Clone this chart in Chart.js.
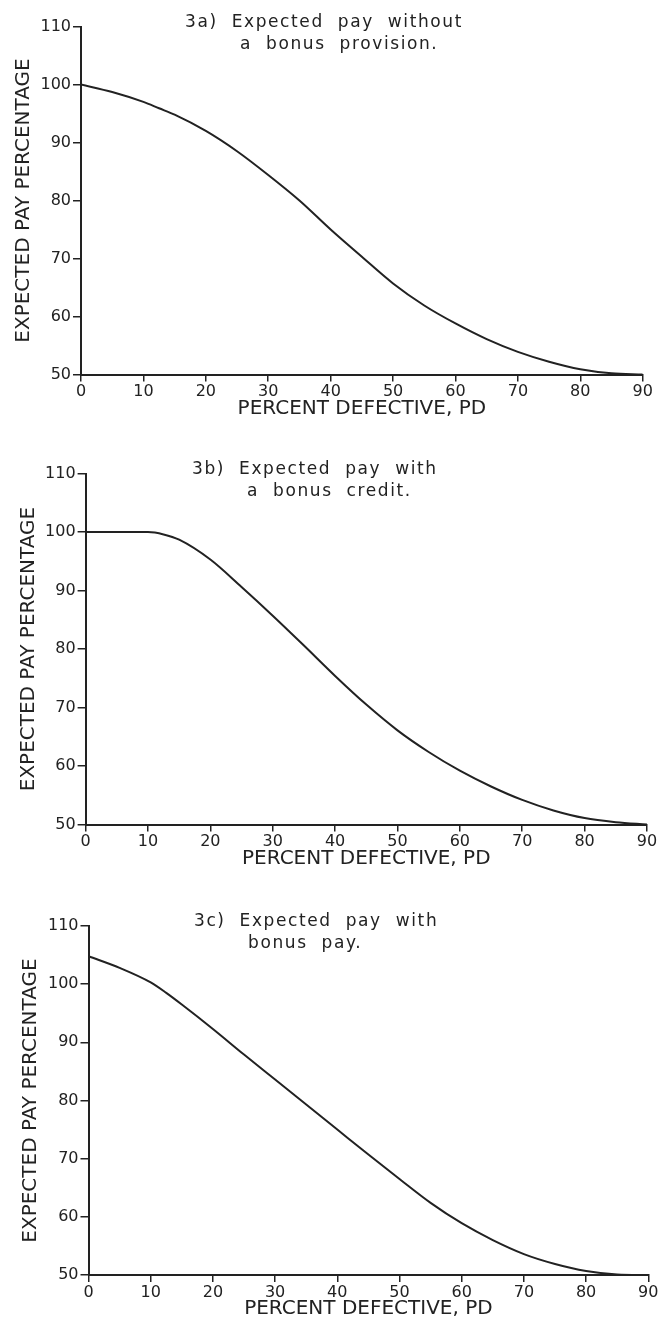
<!DOCTYPE html>
<html>
<head>
<meta charset="utf-8">
<script src="https://cdn.jsdelivr.net/npm/chart.js@4.4.0/dist/chart.umd.min.js"></script>
<style>
body { margin: 0; background: #fff; }
#page { position: relative; width: 660px; height: 1324px; overflow: hidden; background: #fff; }
.panel { position: absolute; left: 0; width: 660px; }
.ptitle { position: absolute; font-family: "DejaVu Sans", sans-serif; font-size: 17px; line-height: 22px;
  color: #222; letter-spacing: 1.6px; word-spacing: 7px; white-space: pre; }
.ptitle span { display: block; }
</style>
</head>
<body>
<div id="page">
  <div class="panel" style="top:0px;height:440px"><canvas id="chartA" width="660" height="440"></canvas></div>
  <div class="panel" style="top:440px;height:440px"><canvas id="chartB" width="660" height="440"></canvas></div>
  <div class="panel" style="top:880px;height:444px"><canvas id="chartC" width="660" height="444"></canvas></div>
  <div class="ptitle" id="titleA" style="left:185px;top:10px"></div>
  <div class="ptitle" id="titleB" style="left:192px;top:457px"></div>
  <div class="ptitle" id="titleC" style="left:194px;top:909px"></div>
</div>
<script>
// values
const percentDefective = [0, 5, 10, 12.5, 15, 20, 25, 30, 35, 40, 45, 50, 55, 60, 65, 70, 75, 80, 85, 90];
const payNoBonus     = [100, 98.7, 97.0, 95.9, 94.8, 92.0, 88.5, 84.4, 80.0, 75.0, 70.3, 65.7, 61.9, 58.8, 56.1, 53.9, 52.2, 50.9, 50.2, 50.0];
const payBonusCredit = [100, 100, 100, 99.6, 98.7, 95.3, 90.6, 85.7, 80.6, 75.4, 70.5, 66.1, 62.4, 59.2, 56.5, 54.2, 52.4, 51.1, 50.4, 50.0];
const payBonusPay    = [104.8, 102.8, 100.3, 98.5, 96.5, 92.3, 87.9, 83.6, 79.3, 75.0, 70.7, 66.5, 62.4, 58.9, 56.0, 53.6, 51.9, 50.7, 50.1, 50.0];

const xTickValues = [0, 10, 20, 30, 40, 50, 60, 70, 80, 90];
const yTickValues = [50, 60, 70, 80, 90, 100, 110];

const panelTitles = [
  ["3a) Expected pay without", "a bonus provision."],
  ["3b) Expected pay with", "a bonus credit."],
  ["3c) Expected pay with", "bonus pay."]
];
const xAxisTitle = "PERCENT DEFECTIVE, PD";
const yAxisTitle = "EXPECTED PAY PERCENTAGE";

Chart.defaults.font.family = '"DejaVu Sans", sans-serif';
Chart.defaults.color = '#222';

function fillTitle(id, lines, indent) {
  var el = document.getElementById(id);
  lines.forEach(function(t, i) {
    var s = document.createElement('span');
    s.textContent = t;
    if (i > 0) s.style.marginLeft = indent + 'px';
    el.appendChild(s);
  });
}
fillTitle('titleA', panelTitles[0], 55);
fillTitle('titleB', panelTitles[1], 55);
fillTitle('titleC', panelTitles[2], 54);

function makePanel(canvasId, pay, box) {
  var ctx = document.getElementById(canvasId).getContext('2d');
  var xH = box.h - box.bottom;
  return new Chart(ctx, {
    type: 'line',
    data: {
      datasets: [{
        data: percentDefective.map(function(x, i) { return {x: x, y: pay[i]}; }),
        borderColor: '#222',
        borderWidth: 2,
        pointRadius: 0,
        fill: false,
        cubicInterpolationMode: 'monotone'
      }]
    },
    options: {
      responsive: false,
      animation: false,
      devicePixelRatio: 1,
      layout: { padding: { left: 0, right: 660 - box.right, top: box.top, bottom: 0 } },
      plugins: { legend: { display: false }, tooltip: { enabled: false } },
      scales: {
        x: {
          type: 'linear', min: 0, max: 90,
          afterBuildTicks: function(s) { s.ticks = xTickValues.map(function(v) { return {value: v}; }); },
          afterFit: function(s) { s.height = xH; },
          grid: { drawOnChartArea: false, drawTicks: true, tickLength: 7, color: '#222', lineWidth: 1.5 },
          border: { display: true, color: '#222', width: 2 },
          ticks: { font: { size: 16 }, padding: 1, maxRotation: 0, autoSkip: false },
          title: { display: true, text: xAxisTitle, font: { size: 20, lineHeight: 1 },
                   padding: { top: 0, bottom: xH - 34 - 10 } }
        },
        y: {
          min: 50, max: 110,
          afterBuildTicks: function(s) { s.ticks = yTickValues.map(function(v) { return {value: v}; }); },
          afterFit: function(s) { s.width = box.left; },
          grid: { drawOnChartArea: false, drawTicks: true, tickLength: 8, color: '#222', lineWidth: 1.5 },
          border: { display: true, color: '#222', width: 2 },
          ticks: { font: { size: 16 }, padding: 2 },
          title: { display: true, text: yAxisTitle, font: { size: 20, lineHeight: 1 },
                   padding: { top: box.yTitle - 10, bottom: 0 } }
        }
      }
    }
  });
}

makePanel('chartA', payNoBonus,     { h: 440, left: 81,   right: 642.7, top: 26.5, bottom: 374.5, yTitle: 24 });
makePanel('chartB', payBonusCredit, { h: 440, left: 85.6, right: 647,   top: 33.6, bottom: 384.5, yTitle: 29 });
makePanel('chartC', payBonusPay,    { h: 444, left: 88.5, right: 648.3, top: 46,   bottom: 395,   yTitle: 31 });
</script>
</body>
</html>
